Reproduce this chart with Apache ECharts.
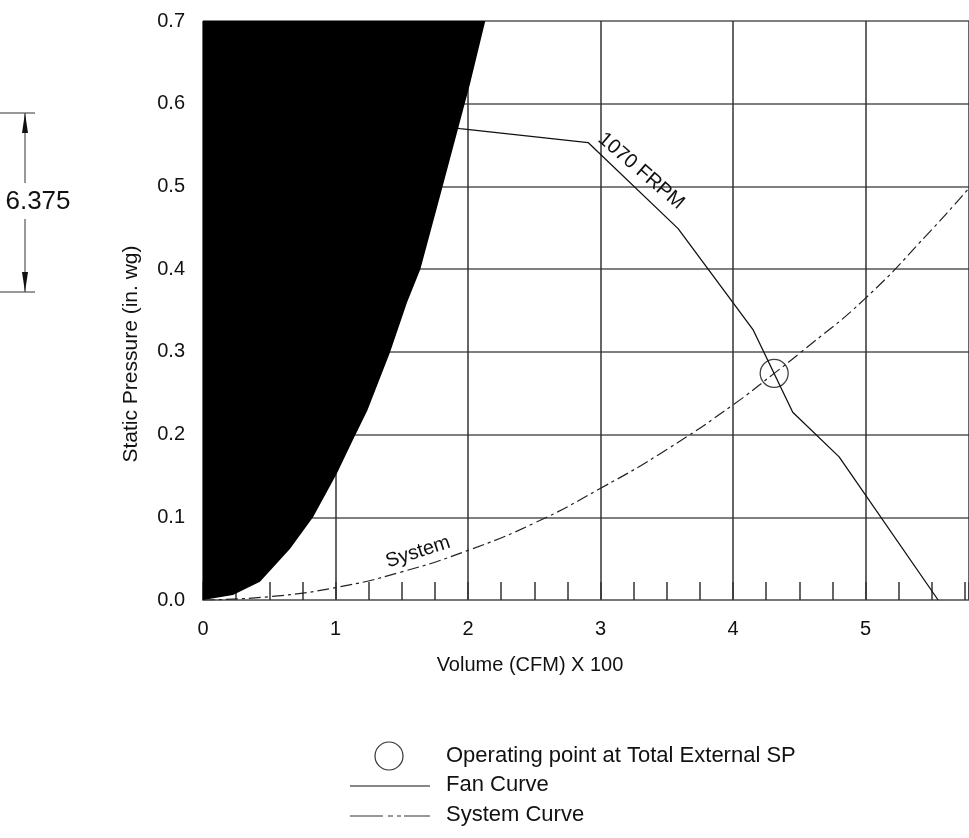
<!DOCTYPE html>
<html>
<head>
<meta charset="utf-8">
<script src="https://cdn.jsdelivr.net/npm/echarts@6/dist/echarts.min.js"></script>
<style>
  html, body { margin: 0; padding: 0; background: #fff; }
  #chart { width: 969px; height: 838px; }
</style>
</head>
<body>
<div id="chart"></div>
<script>
  // black region
  const blackX = [0, 0.226, 0.43, 0.657, 0.83, 1.01, 1.13, 1.24, 1.41, 1.54, 1.64, 1.80, 2.015, 2.13, 0]
  const blackY = [0, 0.006, 0.022, 0.062, 0.1, 0.153, 0.193, 0.229, 0.299, 0.36, 0.40, 0.495, 0.624, 0.7, 0.7]

  // fan curve 1070 FRPM
  const fanX = [1.5, 1.94, 2.906, 3.585, 4.15, 4.45, 4.80, 5.547]
  const fanY = [0.58, 0.570, 0.553, 0.449, 0.327, 0.227, 0.173, 0.0]

  // system curve
  const sysX = [0, 0.5, 1, 1.5, 2, 2.5, 3, 3.5, 4, 4.31, 4.5, 5, 5.5, 5.78]
  const sysY = [0, 0.004, 0.015, 0.034, 0.06, 0.093, 0.135, 0.182, 0.236, 0.274, 0.298, 0.365, 0.448, 0.498]

  // operating point
  const opX = [4.31]
  const opY = [0.274]

  const font = 'Liberation Sans, Arial, sans-serif'
  const zip = (xs, ys) => xs.map((x, i) => [x, ys[i]])

  let myCharts = echarts.init(document.getElementById('chart'))

  let option = {
    animation: false,
    grid: { left: 203, right: 0, top: 21, bottom: 238 },
    xAxis: [
      {
        type: 'value',
        min: 0,
        max: 5.78,
        interval: 1,
        axisLine: { show: true, lineStyle: { color: '#777', width: 2 } },
        axisTick: { show: false },
        axisLabel: { fontSize: 20, color: '#111', fontFamily: font, margin: 19, showMaxLabel: false },
        splitLine: { show: true, lineStyle: { color: '#333', width: 1.5 } }
      },
      {
        // small ticks every 0.25
        type: 'value',
        position: 'bottom',
        min: 0,
        max: 5.78,
        interval: 0.25,
        axisLine: { show: false },
        axisTick: { show: true, inside: true, length: 18, lineStyle: { color: '#333', width: 1.5 } },
        axisLabel: { show: false },
        splitLine: { show: false }
      }
    ],
    yAxis: {
      type: 'value',
      min: 0,
      max: 0.7,
      interval: 0.1,
      axisLine: { show: false },
      axisTick: { show: false },
      axisLabel: {
        fontSize: 20, color: '#111', fontFamily: font, margin: 18,
        formatter: v => v.toFixed(1)
      },
      splitLine: { show: true, lineStyle: { color: '#555', width: 1.5 } }
    },
    series: [
      {
        name: 'System Curve',
        type: 'line',
        data: zip(sysX, sysY),
        smooth: true,
        symbol: 'none',
        lineStyle: { color: '#222', width: 1.2, type: [12, 4, 3, 4] },
        z: 3
      },
      {
        name: 'Fan Curve',
        type: 'line',
        data: zip(fanX, fanY),
        symbol: 'none',
        lineStyle: { color: '#111', width: 1.3 },
        z: 3
      },
      {
        name: 'Operating point',
        type: 'scatter',
        data: zip(opX, opY),
        symbol: 'circle',
        symbolSize: 28,
        itemStyle: { color: 'none', borderColor: '#111', borderWidth: 1.3 },
        z: 4
      },
      {
        // black filled region
        type: 'custom',
        data: [[0, 0]],
        renderItem: function (params, api) {
          const pts = blackX.map((x, i) => api.coord([x, blackY[i]]))
          return { type: 'polygon', shape: { points: pts }, style: { fill: '#000' } }
        },
        z: 5
      }
    ],
    graphic: [
      // axis names
      {
        type: 'text', x: 131, y: 354, rotation: Math.PI / 2,
        style: { text: 'Static Pressure (in. wg)', font: '21px ' + font, fill: '#111', align: 'center', verticalAlign: 'middle' }
      },
      {
        type: 'text', x: 530, y: 665,
        style: { text: 'Volume (CFM) X 100', font: '20px ' + font, fill: '#111', align: 'center', verticalAlign: 'middle' }
      },
      // curve labels
      {
        type: 'text', x: 641, y: 171, rotation: -0.71, z: 10,
        style: { text: '1070 FRPM', font: '20px ' + font, fill: '#111', align: 'center', verticalAlign: 'middle' }
      },
      {
        type: 'text', x: 418, y: 552, rotation: 0.31, z: 10,
        style: { text: 'System', font: '20px ' + font, fill: '#111', align: 'center', verticalAlign: 'middle' }
      },
      // dimension mark on the left
      { type: 'line', shape: { x1: 0, y1: 113, x2: 35, y2: 113 }, style: { stroke: '#333', lineWidth: 1 } },
      { type: 'line', shape: { x1: 0, y1: 292, x2: 35, y2: 292 }, style: { stroke: '#333', lineWidth: 1 } },
      { type: 'line', shape: { x1: 25, y1: 113, x2: 25, y2: 183 }, style: { stroke: '#333', lineWidth: 1 } },
      { type: 'line', shape: { x1: 25, y1: 219, x2: 25, y2: 292 }, style: { stroke: '#333', lineWidth: 1 } },
      { type: 'polygon', shape: { points: [[25, 113], [22, 133], [28, 133]] }, style: { fill: '#111' } },
      { type: 'polygon', shape: { points: [[25, 292], [22, 272], [28, 272]] }, style: { fill: '#111' } },
      {
        type: 'text', x: 38, y: 202,
        style: { text: '6.375', font: '26px ' + font, fill: '#111', align: 'center', verticalAlign: 'middle' }
      },
      // legend
      { type: 'circle', shape: { cx: 389, cy: 756, r: 14 }, style: { fill: 'none', stroke: '#333', lineWidth: 1.2 } },
      {
        type: 'text', x: 446, y: 756,
        style: { text: 'Operating point at Total External SP', font: '22px ' + font, fill: '#111', verticalAlign: 'middle' }
      },
      { type: 'line', shape: { x1: 350, y1: 786, x2: 430, y2: 786 }, style: { stroke: '#111', lineWidth: 1.2 } },
      {
        type: 'text', x: 446, y: 785,
        style: { text: 'Fan Curve', font: '22px ' + font, fill: '#111', verticalAlign: 'middle' }
      },
      { type: 'line', shape: { x1: 350, y1: 816, x2: 383, y2: 816 }, style: { stroke: '#777', lineWidth: 1.5 } },
      { type: 'line', shape: { x1: 388, y1: 816, x2: 393, y2: 816 }, style: { stroke: '#777', lineWidth: 1.5 } },
      { type: 'line', shape: { x1: 397, y1: 816, x2: 401, y2: 816 }, style: { stroke: '#777', lineWidth: 1.5 } },
      { type: 'line', shape: { x1: 404, y1: 816, x2: 430, y2: 816 }, style: { stroke: '#777', lineWidth: 1.5 } },
      {
        type: 'text', x: 446, y: 815,
        style: { text: 'System Curve', font: '22px ' + font, fill: '#111', verticalAlign: 'middle' }
      }
    ]
  }

  myCharts.setOption(option)
  window.addEventListener('resize', () => {
    myCharts && myCharts.resize()
  })
</script>
</body>
</html>
